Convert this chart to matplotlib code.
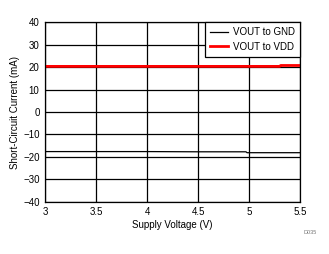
import matplotlib.pyplot as plt

plt.rcParams['font.family'] = ['Liberation Sans', 'DejaVu Sans']

# Supply voltage (V) and short-circuit current (mA)
v_gnd = [3.0, 3.5, 4.0, 4.5, 4.97, 4.98, 5.5]
i_gnd = [-17.6, -17.6, -17.6, -17.7, -17.7, -18.1, -18.1]
v_vdd = [3.0, 3.5, 4.0, 4.5, 5.0, 5.3, 5.31, 5.5]
i_vdd = [20.3, 20.3, 20.3, 20.3, 20.3, 20.3, 20.7, 20.7]

fig = plt.figure(figsize=(3.29, 2.54), dpi=100)
ax = fig.add_axes([0.137, 0.205, 0.775, 0.708])

ax.plot(v_gnd, i_gnd, color='black', linewidth=0.9, label='VOUT to GND')
ax.plot(v_vdd, i_vdd, color='#ff0000', linewidth=2.0, label='VOUT to VDD')

ax.set_xlim(3, 5.5)
ax.set_ylim(-40, 40)
ax.set_xticks([3, 3.5, 4, 4.5, 5, 5.5])
ax.set_xticklabels(['3', '3.5', '4', '4.5', '5', '5.5'])
ax.set_yticks(range(-40, 41, 10))
ax.grid(True, color='black', linewidth=0.9)
ax.tick_params(length=0, labelsize=7, pad=4)
for s in ax.spines.values():
    s.set_linewidth(0.9)

ax.set_xlabel('Supply Voltage (V)', fontsize=7, labelpad=2)
ax.set_ylabel('Short-Circuit Current (mA)', fontsize=7, labelpad=2)

leg = ax.legend(loc='upper right', fontsize=7, frameon=True, fancybox=False,
                borderaxespad=0, handlelength=1.8, handletextpad=0.5,
                borderpad=0.55, labelspacing=0.45)
leg.get_frame().set_edgecolor('black')
leg.get_frame().set_linewidth(0.9)
leg.get_frame().set_alpha(1)

fig.text(0.942, 0.08, 'D035', fontsize=4, color='#777777', ha='center')

fig.savefig('out.png', dpi=100)
